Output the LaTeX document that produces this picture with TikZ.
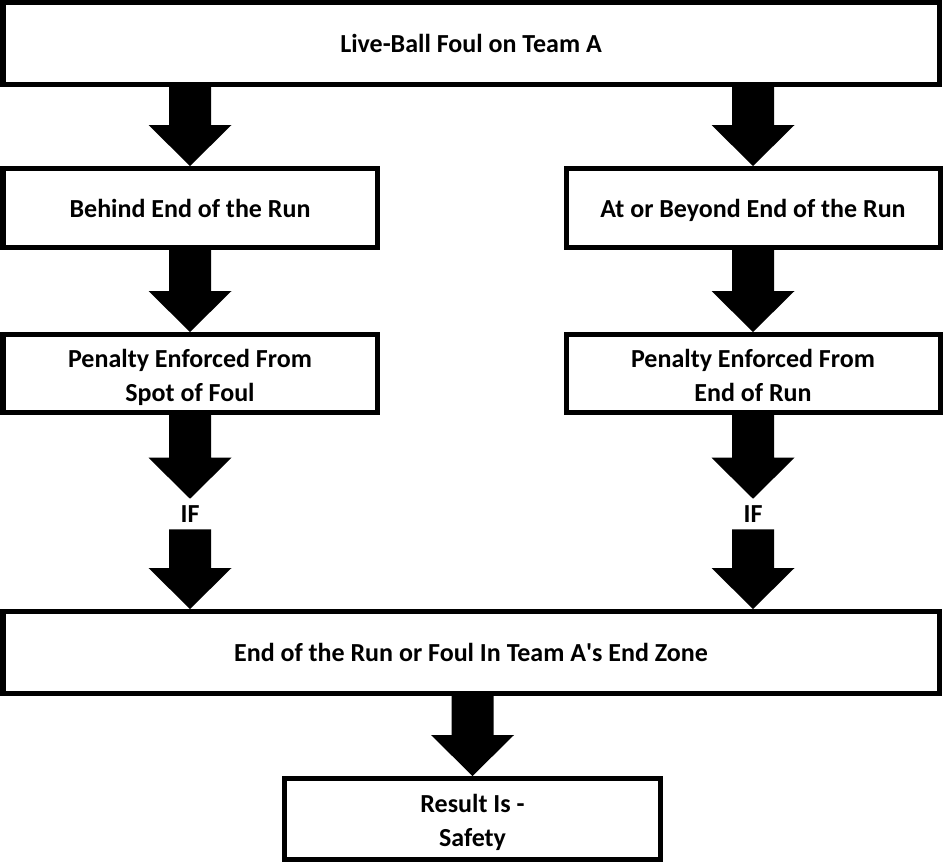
\documentclass[tikz,border=0pt]{standalone}
\usepackage{fontspec}
\setmainfont{Carlito}
\usepackage{tikz}
\usetikzlibrary{calc}
\newdimen\px \px=0.75pt
\tikzstyle{box} = [rectangle, draw=black, line width=5\px, text centered, align=center, font=\fontsize{19.5}{25.5}\selectfont\bfseries]
\tikzstyle{oneline} = [text height=17pt, text depth=3.5pt]
\tikzstyle{twoline} = [text height=45pt, text depth=3.5pt]
\tikzstyle{sidebox} = [box, minimum width=374\px, minimum height=79\px]
\tikzstyle{wide} = [box, oneline, minimum width=936\px, minimum height=82\px]
\tikzstyle{iflabel} = [inner sep=0pt, minimum height=30\px, font=\fontsize{19.5}{25.5}\selectfont\bfseries]
\newcommand{\blockarrow}[2]{%
  \fill let \p1=#1, \p2=#2 in
    (\x2-21\px,\y1) -- (\x2+21\px,\y1) -- (\x2+21\px,\y2+41\px) -- (\x2+41.5\px,\y2+41\px)
    -- (\x2,\y2) -- (\x2-41.5\px,\y2+41\px) -- (\x2-21\px,\y2+41\px) -- cycle;}

\begin{document}
\begin{tikzpicture}[x=0.75pt, y=-0.75pt]
  \useasboundingbox (0,0) rectangle (943,864);

  \node (live) [wide] at (471,43.5) {Live-Ball Foul on Team A};
  \node (behind) [sidebox, oneline] at (190,208) {Behind End of the Run};
  \node (beyond) [sidebox, oneline] at (753,208) {At or Beyond End of the Run};
  \node (penspot) [sidebox, twoline, minimum height=78\px] at (190,373.5) {Penalty Enforced From\\Spot of Foul};
  \node (penend) [sidebox, twoline, minimum height=78\px] at (753,373.5) {Penalty Enforced From\\End of Run};
  \node (ifspot) [iflabel] at (190,514) {IF};
  \node (ifend) [iflabel] at (753,514) {IF};
  \node (endzone) [wide] at (471,652.5) {End of the Run or Foul In Team A\textquotesingle s End Zone};
  \node (result) [box, twoline, minimum width=376\px, minimum height=81\px] at (472.5,819) {Result Is -\\Safety};

  \blockarrow{(live.south -| behind)}{(behind.north)}
  \blockarrow{(live.south -| beyond)}{(beyond.north)}
  \blockarrow{(behind.south)}{(penspot.north)}
  \blockarrow{(beyond.south)}{(penend.north)}
  \blockarrow{(penspot.south)}{(ifspot.north)}
  \blockarrow{(penend.south)}{(ifend.north)}
  \blockarrow{(ifspot.south)}{(ifspot |- endzone.north)}
  \blockarrow{(ifend.south)}{(ifend |- endzone.north)}
  \blockarrow{(endzone.south)}{(result.north)}
\end{tikzpicture}
\end{document}
